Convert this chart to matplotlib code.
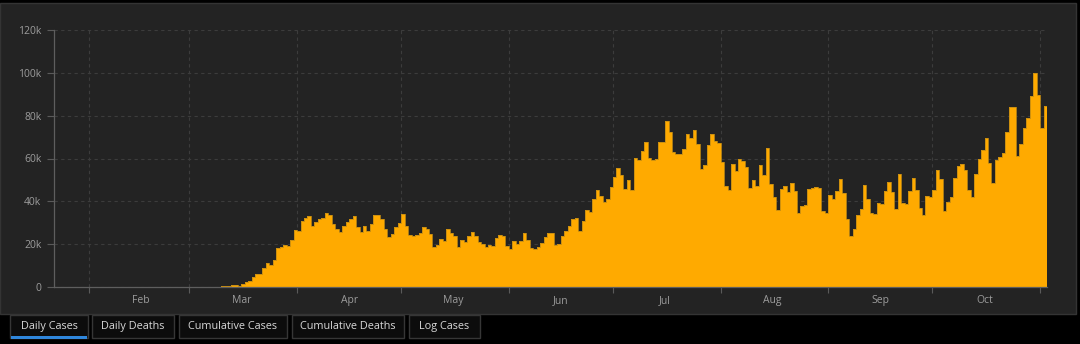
import matplotlib
matplotlib.use('Agg')
import matplotlib.pyplot as plt
import matplotlib.dates as mdates
from matplotlib.patches import Rectangle
from matplotlib.ticker import FuncFormatter, NullFormatter
import pandas as pd

plt.rcParams['font.family'] = ['Open Sans', 'DejaVu Sans']

# daily new cases (starts 2020-01-22)
start = '2020-01-22'
jan = [1, 0, 1, 0, 3, 0, 0, 0, 0, 2]
feb = [1, 0, 0, 3, 0, 0, 0, 0, 0, 1, 0, 1, 0, 0, 1, 0, 0, 0, 0, 0,
       0, 0, 0, 0, 0, 0, 2, 1, 8]
mar = [20, 25, 30, 60, 70, 100, 110, 140, 200, 300, 500, 600, 900, 1000, 600,
       1600, 2200, 3000, 4500, 6300, 6100, 9100, 11300, 10500, 12400, 18200,
       18800, 19500, 19200, 22000, 26700]
apr = [26000, 30900, 32300, 33100, 28400, 30500, 31600, 32300, 34500, 33400,
       29400, 27000, 25700, 28700, 30400, 31600, 33000, 27800, 25700, 28600,
       26200, 29400, 33400, 33800, 31900, 27300, 23200, 24800, 27800, 29800]
may = [34200, 28300, 24500, 23700, 24300, 25300, 27800, 27000, 24800, 18800,
       19500, 22600, 21400, 27300, 25100, 23900, 18500, 21800, 21200, 23600,
       25700, 23700, 21000, 20000, 18700, 19600, 19000, 22900, 24500, 24000, 19300]
jun = [17700, 21500, 20100, 21500, 25400, 22000, 18100, 17700, 18500, 20700,
       23400, 25000, 25400, 19800, 20100, 23700, 26100, 28300, 31600, 32200,
       26200, 30800, 36000, 34900, 41000, 45400, 42500, 39900, 41000, 46600]
jul = [51500, 55600, 52400, 45800, 50100, 45200, 60400, 59500, 63600, 67800,
       60400, 59500, 59800, 67500, 67800, 77600, 72500, 63000, 61900, 62200,
       64500, 71600, 69600, 73500, 66600, 55300, 56800, 66100, 71600, 68100, 67400]
aug = [58200, 47300, 45200, 57600, 54000, 60000, 58600, 55900, 46300, 49800,
       47100, 57100, 52300, 64700, 48200, 41800, 36000, 45800, 47300, 44400,
       48500, 44600, 34700, 37800, 38300, 45700, 46200, 46600, 46200, 35600, 34700]
sep = [43000, 41000, 44600, 50200, 44100, 31600, 24000, 27000, 33400, 36400,
       47700, 41300, 34700, 34100, 39100, 38900, 44700, 49000, 44300, 36400,
       52600, 39300, 38800, 44600, 51000, 45100, 36700, 33800, 42500, 41900]
oct_ = [45100, 54800, 50200, 35600, 39700, 42200, 50900, 56500, 57600, 54800,
        45100, 41900, 52800, 60000, 63900, 69600, 57800, 48700, 59200, 60600,
        62800, 72200, 84200, 84200, 61100, 66900, 74100, 78800, 89200, 99700, 89500]
nov = [74100, 84600]

yticks = [0, 20000, 40000, 60000, 80000, 100000, 120000]
tabs = ['Daily Cases', 'Daily Deaths', 'Cumulative Cases', 'Cumulative Deaths', 'Log Cases']

cases = jan + feb + mar + apr + may + jun + jul + aug + sep + oct_ + nov
dates = pd.date_range(start, periods=len(cases), freq='D')

W, H = 1080, 344
fig = plt.figure(figsize=(W / 100, H / 100), dpi=100, facecolor='black')


def box(x0, y0, x1, y1):
    # pixel box (top-left origin) -> figure fraction [left, bottom, width, height]
    return [x0 / W, 1 - y1 / H, (x1 - x0) / W, (y1 - y0) / H]


# dark panel behind the chart
l, b, w, h = box(0, 3, 1076, 314)
fig.patches.append(Rectangle((l, b), w, h, transform=fig.transFigure,
                             facecolor='#232323', edgecolor='#343434', lw=1, zorder=-5))

ax = fig.add_axes(box(54, 30, 1047, 287))
ax.set_zorder(2)
ax.set_facecolor('none')

ax.bar(dates, cases, width=1.0, align='edge', color='#ffaa00', linewidth=0, zorder=3)
ax.step(list(dates) + [dates[-1] + pd.Timedelta(days=1)], cases + [cases[-1]],
        where='post', color='#c48c12', lw=0.6, zorder=4)

ax.set_xlim(dates[0], dates[-1] + pd.Timedelta(days=1))
ax.set_ylim(0, 120000)
ax.set_yticks(yticks)
ax.yaxis.set_major_formatter(FuncFormatter(lambda v, p: '0' if v == 0 else f'{int(v / 1000)}k'))

# month starts get the tick marks, month names sit mid-month
ax.xaxis.set_major_locator(mdates.MonthLocator())
ax.xaxis.set_major_formatter(NullFormatter())
ax.xaxis.set_minor_locator(mdates.MonthLocator(bymonthday=16))
ax.xaxis.set_minor_formatter(mdates.DateFormatter('%b'))

ax.grid(True, which='major', color='#3c3c3c', linestyle=(0, (3, 3)), lw=0.8, zorder=1)
ax.tick_params(axis='x', which='major', length=4, color='#5a5a5a', labelbottom=False)
ax.tick_params(axis='x', which='minor', length=0, pad=6, labelsize=7.5, labelcolor='#9c9c9c')
ax.tick_params(axis='y', length=5, color='#5a5a5a', pad=4, labelsize=7.5, labelcolor='#9c9c9c')

for side in ['top', 'right']:
    ax.spines[side].set_visible(False)
for side in ['left', 'bottom']:
    ax.spines[side].set_color('#5e5e5e')
    ax.spines[side].set_linewidth(0.9)
ax.spines['bottom'].set_zorder(5)

# tab buttons under the panel
tab_x = [(10, 88), (92, 174), (179, 287), (292, 404), (409, 480)]
for name, (x0, x1) in zip(tabs, tab_x):
    l, b, w, h = box(x0, 315, x1, 338)
    fig.patches.append(Rectangle((l, b), w, h, transform=fig.transFigure,
                                 facecolor='#0c0c0c', edgecolor='#363636', lw=1, zorder=1))
    fig.text(l + w / 2, 1 - 326.5 / H, name, ha='center', va='center',
             fontsize=7.8, color='#d8d8d8')

# underline for the active tab
l, b, w, h = box(11, 336, 87, 338.5)
fig.patches.append(Rectangle((l, b), w, h, transform=fig.transFigure,
                             facecolor='#2f86db', edgecolor='none', zorder=2))

fig.savefig('out.png', dpi=100, facecolor='black')
